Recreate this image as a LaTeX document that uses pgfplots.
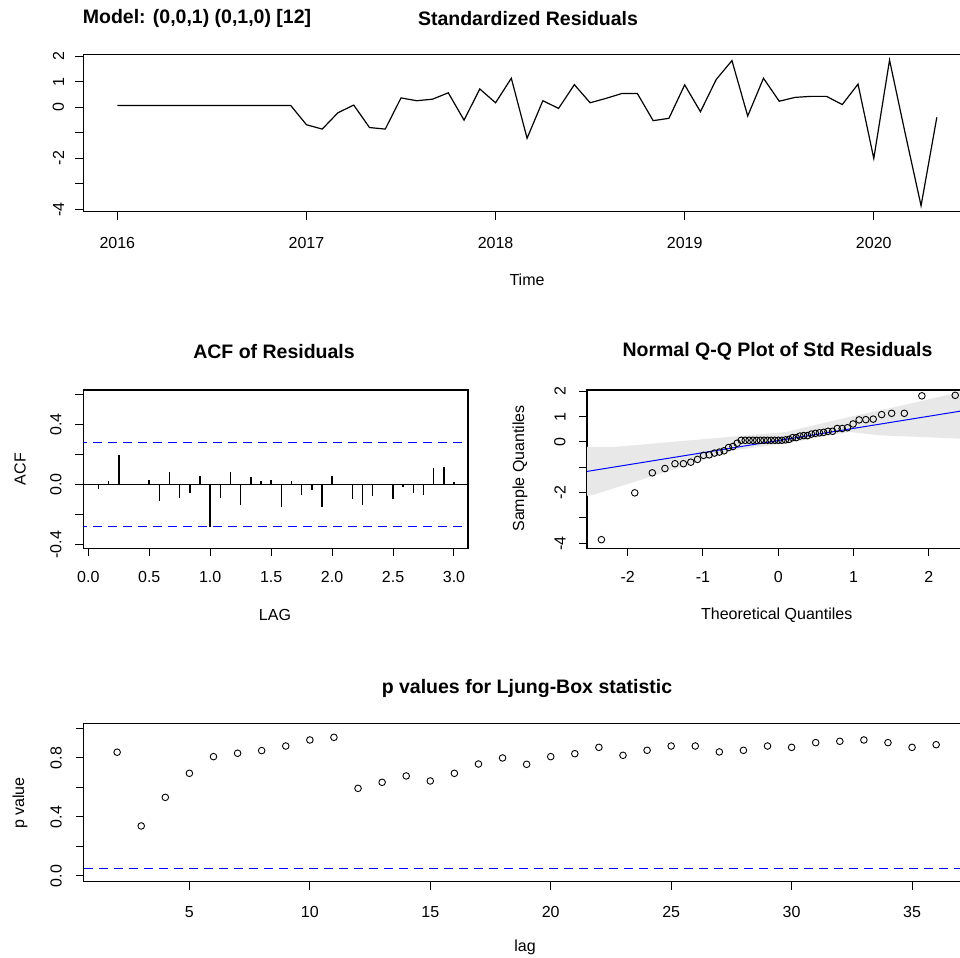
\documentclass[border=0pt]{standalone}
\usepackage{pgfplots}
\pgfplotsset{compat=1.18}
\usepackage{fontspec}
\setmainfont{Liberation Sans}
\definecolor{rblue}{RGB}{0,0,255}
\definecolor{bandgray}{RGB}{232,232,232}

\pgfplotstableread{
m r
0 0.065
1 0.065
2 0.065
3 0.065
4 0.065
5 0.065
6 0.065
7 0.065
8 0.065
9 0.065
10 0.065
11 0.065
12 -0.69
13 -0.86
14 -0.22
15 0.08
16 -0.80
17 -0.86
18 0.36
19 0.25
20 0.31
21 0.56
22 -0.51
23 0.71
24 0.17
25 1.13
26 -1.22
27 0.25
28 -0.05
29 0.88
30 0.17
31 0.34
32 0.53
33 0.53
34 -0.53
35 -0.44
36 0.87
37 -0.18
38 1.08
39 1.82
40 -0.35
41 1.13
42 0.23
43 0.38
44 0.42
45 0.42
46 0.10
47 0.90
48 -2.01
49 1.84
50 -1.05
51 -3.86
52 -0.40
}\resid

\pgfplotstableread{
k acf
1 -0.027
2 0.022
3 0.196
4 0.004
5 -0.004
6 0.033
7 -0.109
8 0.082
9 -0.089
10 -0.060
11 0.056
12 -0.284
13 -0.089
14 0.082
15 -0.136
16 0.053
17 0.022
18 0.033
19 -0.149
20 0.022
21 -0.069
22 -0.038
23 -0.149
24 0.056
25 0.005
26 -0.100
27 -0.136
28 -0.076
29 0.003
30 -0.100
31 -0.016
32 -0.060
33 -0.069
34 0.107
35 0.116
36 0.016
}\acftab

\pgfplotstableread{
z s
-2.349 -3.86
-1.906 -2.01
-1.673 -1.22
-1.505 -1.05
-1.372 -0.86
-1.260 -0.86
-1.162 -0.80
-1.073 -0.69
-0.993 -0.53
-0.918 -0.51
-0.848 -0.44
-0.782 -0.40
-0.720 -0.35
-0.660 -0.22
-0.602 -0.18
-0.546 -0.05
-0.492 0.065
-0.440 0.065
-0.388 0.065
-0.337 0.065
-0.287 0.065
-0.238 0.065
-0.190 0.065
-0.142 0.065
-0.095 0.065
-0.047 0.065
0.000 0.065
0.047 0.065
0.095 0.08
0.142 0.10
0.190 0.17
0.238 0.17
0.287 0.23
0.337 0.25
0.388 0.25
0.440 0.31
0.492 0.34
0.546 0.36
0.602 0.38
0.660 0.42
0.720 0.42
0.782 0.53
0.848 0.53
0.918 0.56
0.993 0.71
1.073 0.87
1.162 0.88
1.260 0.90
1.372 1.08
1.505 1.13
1.673 1.13
1.906 1.82
2.349 1.84
}\qqtab

\pgfplotstableread{
lag p
2 0.839
3 0.339
4 0.533
5 0.696
6 0.809
7 0.832
8 0.850
9 0.881
10 0.922
11 0.940
12 0.594
13 0.635
14 0.678
15 0.644
16 0.696
17 0.759
18 0.800
19 0.757
20 0.809
21 0.829
22 0.872
23 0.818
24 0.852
25 0.881
26 0.881
27 0.841
28 0.852
29 0.881
30 0.872
31 0.904
32 0.913
33 0.922
34 0.904
35 0.872
36 0.890
}\lbtab

\pgfplotsset{
  rbase/.style n args={2}{
    scale only axis,
    anchor=north west,
    axis line style={line width=1.1bp},
    tick align=outside,
    major tick length=8bp,
    every tick/.style={line width=1bp, black},
    xtick pos=left, ytick pos=left,
    tick label style={font=\fontsize{16bp}{18bp}\selectfont},
    yticklabel style={xshift=-#1, rotate=90, anchor=south, inner sep=0pt},
    xticklabel style={yshift=-#2, anchor=north, inner sep=0pt},
  }
}

\begin{document}
\begin{tikzpicture}
\useasboundingbox (0,0) rectangle (960bp,-958bp);
\clip (0,0) rectangle (960bp,-958bp);

% Panel 1: standardized residuals
\begin{axis}[rbase={11bp}{17.8bp}, at={(83.3bp,-54.3bp)}, width=886.3bp, height=157.4bp,
  xmin=-2.16, xmax=54.08, ymin=-4.094, ymax=2.067,
  xtick={0,12,24,36,48}, xticklabels={2016,2017,2018,2019,2020},
  ytick={-4,-3,-2,-1,0,1,2}, yticklabels={-4,,-2,,0,1,2}]
\addplot[black, line width=1.2bp] table[x=m,y=r] {\resid};
\end{axis}

% Panel 2: ACF
\begin{axis}[rbase={13.5bp}{14.6bp}, at={(83.3bp,-390bp)}, width=384.7bp, height=158.3bp,
  xmin=-0.49, xmax=37.38, ymin=-0.425, ymax=0.629,
  xtick={0,6,12,18,24,30,36}, xticklabels={0.0,0.5,1.0,1.5,2.0,2.5,3.0},
  ytick={-0.4,-0.2,0,0.2,0.4,0.6}, yticklabels={-0.4,,0.0,,0.4,}]
\addplot[black, line width=1.2bp] coordinates {(-1,0) (38,0)};
\addplot[rblue, line width=1.8bp, dash pattern=on 9bp off 6bp] coordinates {(-1,0.28) (38,0.28)};
\addplot[rblue, line width=1.8bp, dash pattern=on 9bp off 6bp] coordinates {(-1,-0.28) (38,-0.28)};
\addplot[black, line width=1.5bp, ycomb, mark=none] table[x=k,y=acf] {\acftab};
\end{axis}

% Panel 3: Q-Q
\begin{axis}[rbase={13.3bp}{14.6bp}, at={(587bp,-390bp)}, width=382.6bp, height=158.3bp,
  xmin=-2.54, xmax=2.54, ymin=-4.2, ymax=2.05,
  xtick={-2,-1,0,1,2}, xticklabels={-2,-1,0,1,2},
  ytick={-4,-3,-2,-1,0,1,2}, yticklabels={-4,,-2,,0,1,2}]
\addplot[fill=bandgray, draw=none] coordinates {
 (-2.6,-0.2) (-2.19,-0.2) (0.09,0.39) (0.95,0.99) (1.66,1.45) (2.6,2.1)
 (2.6,0.12) (2.41,0.13) (1.35,0.26) (0.95,0.39) (0.09,-0.06) (-0.58,-0.33) (-2.47,-2.10) (-2.6,-2.15)} -- cycle;
\addplot[rblue, line width=1bp] coordinates {(-2.6,-1.193) (2.6,1.303)};
\addplot[only marks, mark=o, mark size=3.3bp, mark options={line width=0.9bp, black}] table[x=z,y=s] {\qqtab};
\end{axis}

% Panel 4: Ljung-Box p values
\begin{axis}[rbase={14bp}{16.3bp}, at={(83.9bp,-723.3bp)}, width=885bp, height=158.4bp,
  xmin=0.62, xmax=37.36, ymin=-0.039, ymax=1.035,
  xtick={5,10,15,20,25,30,35}, xticklabels={5,10,15,20,25,30,35},
  ytick={0,0.2,0.4,0.6,0.8,1.0}, yticklabels={0.0,,0.4,,0.8,}]
\addplot[rblue, line width=1.8bp, dash pattern=on 9bp off 6bp] coordinates {(0,0.05) (38,0.05)};
\addplot[only marks, mark=o, mark size=3.3bp, mark options={line width=0.9bp, black}] table[x=lag,y=p] {\lbtab};
\end{axis}

% Titles and labels
\def\tfont{\fontsize{19.5bp}{22bp}\selectfont\bfseries}
\def\lfont{\fontsize{16bp}{18bp}\selectfont}
\node[anchor=west, inner sep=0pt, font=\tfont] at (82.7bp,-18.3bp) {Model: (0,0,1) (0,1,0) [12]};
\node[inner sep=0pt, font=\tfont] at (528bp,-18.3bp) {Standardized Residuals};
\node[inner sep=0pt, font=\lfont] at (527bp,-280bp) {Time};
\node[inner sep=0pt, font=\tfont] at (274bp,-351.7bp) {ACF of Residuals};
\node[inner sep=0pt, font=\tfont] at (777.5bp,-351.7bp) {Normal Q-Q Plot of Std Residuals};
\node[inner sep=0pt, font=\lfont, rotate=90] at (20bp,-469bp) {ACF};
\node[inner sep=0pt, font=\lfont] at (275bp,-615bp) {LAG};
\node[inner sep=0pt, font=\lfont, rotate=90] at (520bp,-468.5bp) {Sample Quantiles};
\node[inner sep=0pt, font=\lfont] at (776.7bp,-615bp) {Theoretical Quantiles};
\node[inner sep=0pt, font=\tfont] at (527bp,-688bp) {p values for Ljung-Box statistic};
\node[inner sep=0pt, font=\lfont, rotate=90] at (20bp,-803bp) {p value};
\node[inner sep=0pt, font=\lfont] at (525bp,-947bp) {lag};
\end{tikzpicture}
\end{document}
